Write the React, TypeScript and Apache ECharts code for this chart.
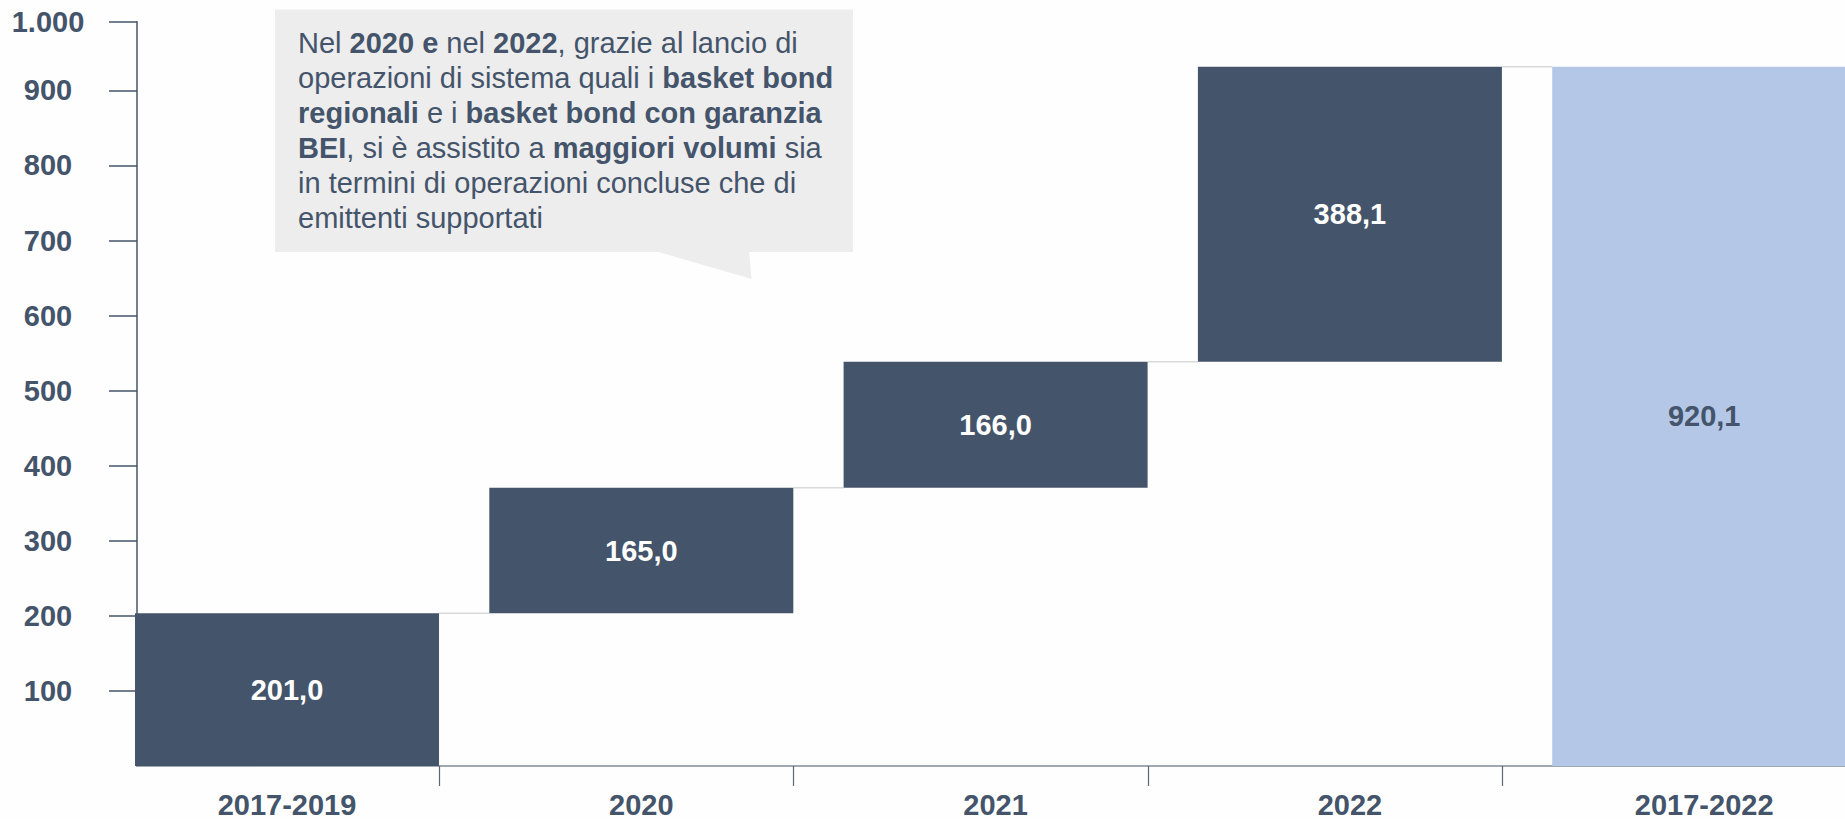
import React, { useEffect, useRef } from "react";
import * as echarts from "echarts";

// ---- data ----
const categories = ["2017-2019", "2020", "2021", "2022", "2017-2022"];
const values = [201.0, 165.0, 166.0, 388.1, 920.1];
const isTotal = [false, false, false, false, true];
const yTickValues = [100, 200, 300, 400, 500, 600, 700, 800, 900];
const yTopValue = 991.5; // top tick of the drawn axis, labelled "1.000"
const yTopLabel = "1.000";

const DARK = "#44546A";
const LIGHT = "#B4C7E7";
const FONT = 'Arial, "Liberation Sans", Helvetica, sans-serif';
const BAR_W = 304;

const fmt = (v: number) => v.toFixed(1).replace(".", ",");

export default function App() {
  const ref = useRef<HTMLDivElement>(null);

  useEffect(() => {
    if (!ref.current) return;
    const chart = echarts.init(ref.current, undefined, { renderer: "svg" });

    // waterfall bases
    const bases: number[] = [];
    let run = 0;
    values.forEach((v, i) => {
      if (isTotal[i]) {
        bases.push(0);
      } else {
        bases.push(run);
        run += v;
      }
    });
    const barData = values.map((v, i) => [i, bases[i], v]);
    const connData = values
      .slice(0, values.length - 1)
      .map((v, i) => [i, bases[i] + v]);

    const labelStyle = { fontFamily: FONT, fontWeight: "bold" as const, fontSize: 29, color: DARK };

    chart.setOption({
      animation: false,
      backgroundColor: "#FEFEFE",
      grid: { left: 137, right: 0, top: 21.7, bottom: 49, containLabel: false },
      xAxis: {
        type: "value",
        min: -0.4234,
        max: 4.3974,
        splitLine: { show: false },
        axisLine: { show: true, lineStyle: { color: "#7F8A96", width: 1.5 } },
        axisTick: {
          show: true,
          customValues: categories.slice(0, categories.length - 1).map((_, i) => i + 0.43),
          length: 20,
          lineStyle: { color: "#5B6676", width: 1.2 },
        },
        axisLabel: {
          customValues: categories.map((_, i) => i),
          formatter: (v: number) => categories[Math.round(v)] ?? "",
          margin: 24,
          lineHeight: 29,
          ...labelStyle,
        },
      },
      yAxis: [
        {
          type: "value",
          min: 0,
          max: 979.4,
          show: false,
        },
        {
          type: "value",
          position: "left",
          min: 0,
          max: yTopValue,
          splitLine: { show: false },
          axisLine: { show: true, lineStyle: { color: DARK, width: 1.5 } },
          axisTick: {
            show: true,
            customValues: [...yTickValues, yTopValue],
            length: 28,
            lineStyle: { color: DARK, width: 1.5 },
          },
          axisLabel: {
            customValues: [...yTickValues, yTopValue],
            formatter: (v: number) => (v === yTopValue ? yTopLabel : String(v)),
            margin: 89,
            align: "center",
            ...labelStyle,
          },
        },
      ],
      series: [
        {
          type: "custom",
          name: "connectors",
          xAxisIndex: 0,
          yAxisIndex: 0,
          data: connData,
          encode: { x: 0, y: 1 },
          renderItem: (params: any, api: any) => {
            const i = api.value(0);
            const y = api.value(1);
            const p0 = api.coord([i, y]);
            const p1 = api.coord([i + 1, y]);
            return {
              type: "line",
              shape: { x1: p0[0] + BAR_W / 2, y1: p0[1], x2: p1[0] - BAR_W / 2, y2: p1[1] },
              style: { stroke: "#D9D9D9", lineWidth: 1.5 },
            };
          },
          z: 1,
        },
        {
          type: "custom",
          name: "bars",
          xAxisIndex: 0,
          yAxisIndex: 0,
          data: barData,
          encode: { x: 0, y: 2 },
          renderItem: (params: any, api: any) => {
            const i = api.value(0);
            const base = api.value(1);
            const v = api.value(2);
            const p0 = api.coord([i, base]);
            const p1 = api.coord([i, base + v]);
            const total = isTotal[params.dataIndex];
            return {
              type: "rect",
              shape: { x: p0[0] - BAR_W / 2, y: p1[1], width: BAR_W, height: p0[1] - p1[1] },
              style: { fill: total ? LIGHT : DARK },
              textContent: {
                style: {
                  text: fmt(v),
                  fill: total ? DARK : "#FFFFFF",
                  fontFamily: FONT,
                  fontWeight: "bold",
                  fontSize: 29,
                },
              },
              textConfig: { position: "inside" },
            };
          },
          z: 2,
        },
      ],
      graphic: [
        {
          type: "group",
          children: [
            {
              type: "rect",
              shape: { x: 275, y: 9.4, width: 578, height: 242.6 },
              style: { fill: "#EDEDED" },
            },
            {
              type: "polygon",
              shape: { points: [[655, 251], [749, 251], [751.5, 279]] },
              style: { fill: "#EDEDED" },
            },
            {
              type: "text",
              x: 298,
              y: 25,
              style: {
                text: [
                  "{n|Nel }{b|2020 e}{n| nel }{b|2022}{n|, grazie al lancio di}",
                  "{n|operazioni di sistema quali i }{b|basket bond}",
                  "{b|regionali}{n| e i }{b|basket bond con garanzia}",
                  "{b|BEI}{n|, si è assistito a }{b|maggiori volumi}{n| sia}",
                  "{n|in termini di operazioni concluse che di}",
                  "{n|emittenti supportati}",
                ].join("\n"),
                verticalAlign: "top",
                align: "left",
                rich: {
                  n: { fontFamily: FONT, fontSize: 29, lineHeight: 35, fill: DARK, color: DARK },
                  b: { fontFamily: FONT, fontSize: 29, lineHeight: 35, fontWeight: "bold", fill: DARK, color: DARK },
                },
              },
            },
          ],
        },
      ],
    });

    return () => chart.dispose();
  }, []);

  return (
    <div
      ref={ref}
      style={{ position: "fixed", left: 0, top: 0, width: 1845, height: 819, overflow: "hidden" }}
    />
  );
}
